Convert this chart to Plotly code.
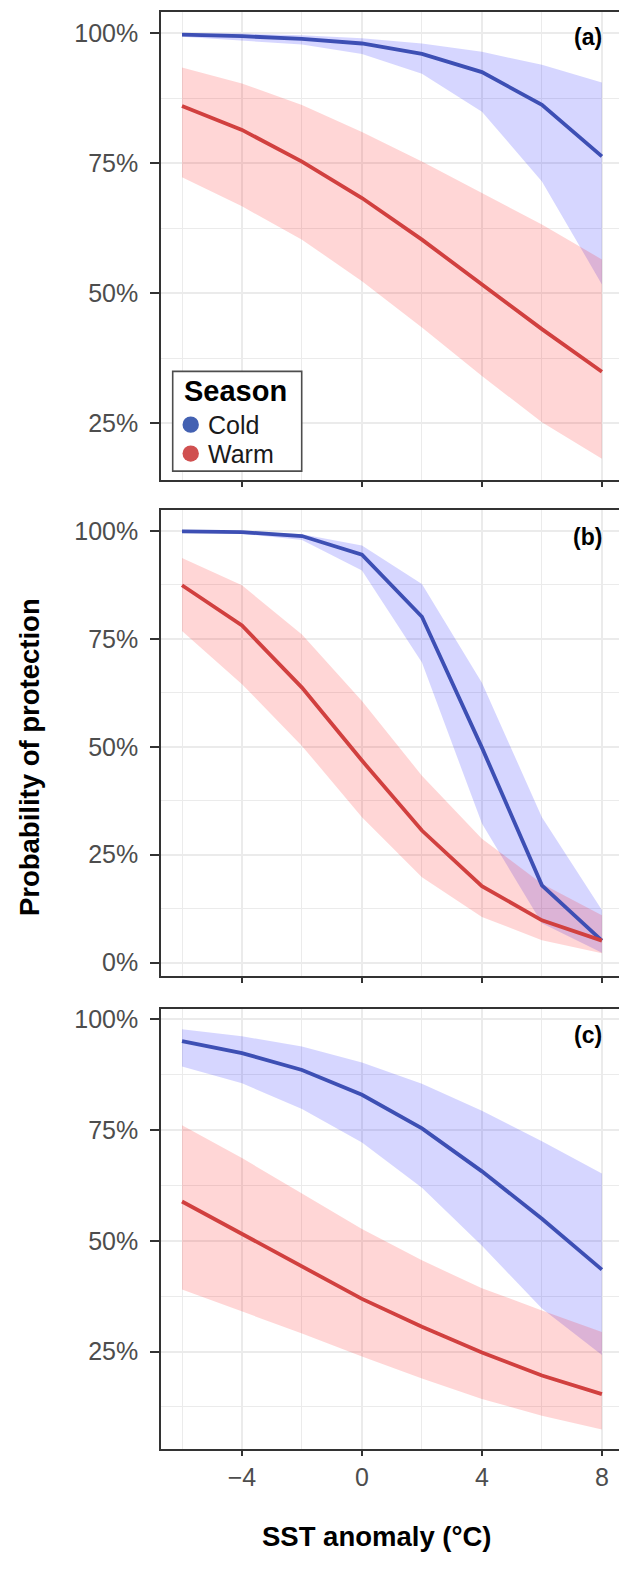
import plotly.graph_objects as go

# ---------------- data ----------------
sst = [-6, -4, -2, 0, 2, 4, 6, 8]

# Panel (a)
a_cold_mid = [99.7, 99.4, 98.9, 98.0, 96.0, 92.5, 86.2, 76.3]
a_cold_hi = [99.95, 99.9, 99.6, 99.0, 98.0, 96.4, 93.9, 90.5]
a_cold_lo = [99.3, 98.6, 97.8, 96.0, 92.2, 84.9, 71.5, 51.7]
a_warm_mid = [86.0, 81.4, 75.3, 68.3, 60.3, 51.7, 43.1, 34.9]
a_warm_hi = [93.4, 90.3, 86.2, 81.0, 75.3, 69.2, 63.2, 56.5]
a_warm_lo = [72.3, 66.7, 60.3, 52.3, 43.4, 34.1, 25.2, 18.2]

# Panel (b)
b_cold_mid = [99.9, 99.7, 98.8, 94.5, 80.1, 49.8, 17.9, 5.1]
b_cold_hi = [100.0, 99.95, 99.2, 96.6, 87.7, 64.8, 33.7, 12.2]
b_cold_lo = [99.8, 99.3, 97.9, 90.8, 69.5, 32.2, 9.1, 2.3]
b_warm_mid = [87.4, 78.1, 63.7, 46.8, 30.6, 17.7, 9.8, 5.1]
b_warm_hi = [93.7, 87.4, 76.0, 60.6, 43.3, 28.7, 18.3, 11.0]
b_warm_lo = [76.8, 64.5, 50.2, 33.7, 19.8, 10.6, 5.2, 2.2]

# Panel (c)
c_cold_mid = [95.1, 92.4, 88.6, 83.0, 75.4, 65.7, 55.0, 43.5]
c_cold_hi = [97.8, 96.2, 93.9, 90.3, 85.5, 79.4, 72.5, 65.2]
c_cold_lo = [89.4, 85.6, 79.8, 72.2, 62.0, 48.9, 34.7, 24.2]
c_warm_mid = [58.9, 51.5, 44.1, 36.9, 30.6, 24.8, 19.6, 15.4]
c_warm_hi = [76.1, 68.7, 60.7, 52.7, 45.6, 39.3, 34.3, 29.4]
c_warm_lo = [39.0, 34.1, 29.1, 23.9, 18.9, 14.3, 10.5, 7.4]

panel_labels = ["(a)", "(b)", "(c)"]
season_names = ["Cold", "Warm"]
x_tick_vals = [-4, 0, 4, 8]
x_tick_labels = ["\u22124", "0", "4", "8"]
x_minor_vals = [-6, -2, 2, 6]
y_ticks_a = [25, 50, 75, 100]
y_labels_a = ["25%", "50%", "75%", "100%"]
y_ticks_b = [0, 25, 50, 75, 100]
y_labels_b = ["0%", "25%", "50%", "75%", "100%"]
y_ticks_c = [25, 50, 75, 100]
y_labels_c = ["25%", "50%", "75%", "100%"]
y_minor_vals = [12.5, 37.5, 62.5, 87.5]
x_title = "SST anomaly (\u00b0C)"
y_title = "Probability of protection"
legend_title = "Season"

# ---------------- style ----------------
W, H = 619, 1579
L = 161
FONT = "Liberation Sans, Arial, Helvetica, sans-serif"
COLD_LINE = "#3D4FB4"
WARM_LINE = "#D1403F"
COLD_FILL = "rgba(0,0,255,0.16)"
WARM_FILL = "rgba(255,0,0,0.16)"
COLD_KEY = "#4361B2"
WARM_KEY = "#D05050"
AXIS_COL = "#333333"
GRID = "#EBEBEB"


def xp(px):
    return (px - L) / (W - L)


def yp(py):
    return 1 - py / H


panels = [
    dict(cold=(a_cold_lo, a_cold_mid, a_cold_hi), warm=(a_warm_lo, a_warm_mid, a_warm_hi),
         yr=[14.05, 104.0], ticks=y_ticks_a, labels=y_labels_a, dom=(8.3, 477.5), lab_y=33),
    dict(cold=(b_cold_lo, b_cold_mid, b_cold_hi), warm=(b_warm_lo, b_warm_mid, b_warm_hi),
         yr=[-3.1, 104.9], ticks=y_ticks_b, labels=y_labels_b, dom=(507.0, 974.5), lab_y=534),
    dict(cold=(c_cold_lo, c_cold_mid, c_cold_hi), warm=(c_warm_lo, c_warm_mid, c_warm_hi),
         yr=[2.92, 102.27], ticks=y_ticks_c, labels=y_labels_c, dom=(1008.0, 1449.0), lab_y=1034),
]

fig = go.Figure()
annotations = []
layout_axes = {}

for i, p in enumerate(panels):
    n = "" if i == 0 else str(i + 1)
    xa, ya = "x" + n, "y" + n
    # ribbons
    for (lo, mid, hi), fill in ((p["cold"], COLD_FILL), (p["warm"], WARM_FILL)):
        fig.add_trace(go.Scatter(x=sst, y=lo, mode="lines", line=dict(width=0),
                                 hoverinfo="skip", showlegend=False, xaxis=xa, yaxis=ya))
        fig.add_trace(go.Scatter(x=sst, y=hi, mode="lines", line=dict(width=0),
                                 fill="tonexty", fillcolor=fill,
                                 hoverinfo="skip", showlegend=False, xaxis=xa, yaxis=ya))
    # lines
    for (lo, mid, hi), col, name in ((p["cold"], COLD_LINE, season_names[0]),
                                     (p["warm"], WARM_LINE, season_names[1])):
        fig.add_trace(go.Scatter(x=sst, y=mid, mode="lines", name=name,
                                 line=dict(color=col, width=3.8),
                                 showlegend=False, xaxis=xa, yaxis=ya))

    top, bot = p["dom"]
    layout_axes["xaxis" + n] = dict(
        domain=[0, 1], anchor=ya, range=[-6.7, 8.57],
        tickvals=x_tick_vals, ticktext=x_tick_labels if i == 2 else [""] * 4,
        showticklabels=True, ticks="outside", ticklen=5, tickwidth=1.6, tickcolor=AXIS_COL,
        showline=True, linecolor=AXIS_COL, linewidth=1.6, mirror=True,
        showgrid=True, gridcolor=GRID, gridwidth=1.6, zeroline=False,
        minor=dict(tickvals=x_minor_vals, showgrid=True, gridcolor=GRID, gridwidth=0.8, ticks=""),
        tickfont=dict(family=FONT, size=25, color="#4D4D4D"),
        ticklabelstandoff=0, fixedrange=True,
    )
    layout_axes["yaxis" + n] = dict(
        domain=[yp(bot), yp(top)], anchor=xa, range=p["yr"],
        tickvals=p["ticks"], ticktext=p["labels"],
        ticks="outside", ticklen=9, tickwidth=1.6, tickcolor=AXIS_COL,
        showline=True, linecolor=AXIS_COL, linewidth=1.6, mirror=False,
        showgrid=True, gridcolor=GRID, gridwidth=1.6, zeroline=False,
        minor=dict(tickvals=y_minor_vals, showgrid=True, gridcolor=GRID, gridwidth=0.8, ticks=""),
        tickfont=dict(family=FONT, size=25, color="#4D4D4D"),
        ticklabelstandoff=7, fixedrange=True,
    )
    annotations.append(dict(text="<b>" + panel_labels[i] + "</b>", xref="paper", yref="paper",
                            x=xp(604), y=yp(p["lab_y"]), xanchor="right", yanchor="middle",
                            showarrow=False, font=dict(family=FONT, size=23, color="#000000")))

# axis titles
annotations.append(dict(text="<b>" + y_title + "</b>", xref="paper", yref="paper",
                        x=xp(29), y=yp(755), xanchor="center", yanchor="middle", textangle=-90,
                        showarrow=False, font=dict(family=FONT, size=27.5, color="#000000")))
annotations.append(dict(text="<b>" + x_title + "</b>", xref="paper", yref="paper",
                        x=xp(377), y=yp(1536), xanchor="center", yanchor="middle",
                        showarrow=False, font=dict(family=FONT, size=27.5, color="#000000")))

# legend (manual)
shapes = [
    dict(type="rect", xref="paper", yref="paper", x0=xp(172.7), x1=xp(301.7),
         y0=yp(468.3), y1=yp(368.3), line=dict(color="#4D4D4D", width=1.6),
         fillcolor="white", layer="above"),
    dict(type="circle", xref="paper", yref="paper", x0=xp(182.5), x1=xp(198.9),
         y0=yp(429.9), y1=yp(413.5), line=dict(width=0), fillcolor=COLD_KEY, layer="above"),
    dict(type="circle", xref="paper", yref="paper", x0=xp(182.5), x1=xp(198.9),
         y0=yp(458.9), y1=yp(442.5), line=dict(width=0), fillcolor=WARM_KEY, layer="above"),
]
annotations.append(dict(text="<b>" + legend_title + "</b>", xref="paper", yref="paper",
                        x=xp(181.5), y=yp(388), xanchor="left", yanchor="middle",
                        showarrow=False, font=dict(family=FONT, size=29, color="#000000")))
annotations.append(dict(text=season_names[0], xref="paper", yref="paper",
                        x=xp(206), y=yp(421.7), xanchor="left", yanchor="middle",
                        showarrow=False, font=dict(family=FONT, size=25, color="#1A1A1A")))
annotations.append(dict(text=season_names[1], xref="paper", yref="paper",
                        x=xp(206), y=yp(450.7), xanchor="left", yanchor="middle",
                        showarrow=False, font=dict(family=FONT, size=25, color="#1A1A1A")))

fig.update_layout(
    width=W, height=H,
    margin=dict(l=L, r=0, t=0, b=0, pad=0),
    paper_bgcolor="white", plot_bgcolor="white",
    showlegend=False,
    annotations=annotations, shapes=shapes,
    **layout_axes,
)

fig.write_html("out.html", config={"displayModeBar": False},
               post_script="document.body.style.margin='0';document.body.style.overflow='hidden';")
